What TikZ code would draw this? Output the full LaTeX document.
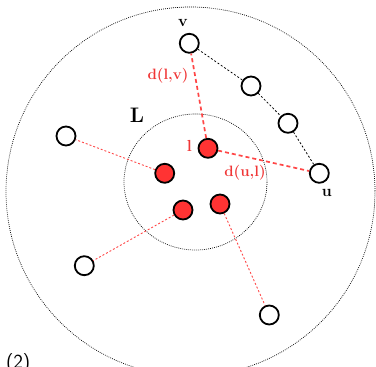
\documentclass[tikz,border=0pt]{standalone}
\usepackage{fontspec}
\setmainfont{Latin Modern Roman}
\setsansfont{Latin Modern Sans}
\definecolor{nodered}{RGB}{255,51,51}
\definecolor{linered}{RGB}{255,70,70}
\definecolor{textred}{RGB}{240,55,55}
\tikzset{
  wnode/.style={circle,draw=black,fill=white,line width=1.8pt,minimum size=19pt,inner sep=0pt},
  rnode/.style={circle,draw=black,fill=nodered,line width=1.8pt,minimum size=19pt,inner sep=0pt},
  ring/.style={draw=black,line width=0.7pt,dash pattern=on 0.8pt off 1.2pt},
  blkline/.style={draw=black,line width=0.8pt,dash pattern=on 2pt off 2pt},
  redthick/.style={draw=linered,line width=1.7pt,dash pattern=on 4pt off 3pt},
  redthin/.style={draw=linered,line width=0.9pt,dash pattern=on 2pt off 2pt},
  lbl/.style={font=\bfseries\fontsize{15}{17}\selectfont,inner sep=0pt},
  rlbl/.style={lbl,text=textred}
}
\begin{document}
\begin{tikzpicture}[x=1pt,y=-1pt]
\useasboundingbox (0,0) rectangle (376,367);
\draw[ring] (190.5,191.5) ellipse [x radius=184.5, y radius=184.5];
\draw[ring] (195.5,182) ellipse [x radius=71.5, y radius=68];
% nodes
\node[wnode] (v) at (189.3,43.3) {};
\node[wnode] (a) at (251,86) {};
\node[wnode] (b) at (288,123.3) {};
\node[wnode] (u) at (319.3,173.3) {};
\node[wnode] (p) at (66,136) {};
\node[wnode] (q) at (84.3,265.7) {};
\node[wnode] (s) at (269.3,315) {};
\node[rnode] (l) at (208,148.3) {};
\node[rnode] (r2) at (164.7,173.3) {};
\node[rnode] (r3) at (183,210) {};
\node[rnode] (r4) at (220,204) {};
% connectors
\draw[blkline] (v) -- (a);
\draw[blkline] (a) -- (b);
\draw[blkline] (b) -- (u);
\draw[redthick] (l) -- (v);
\draw[redthick] (l) -- (u);
\draw[redthin] (r2) -- (p);
\draw[redthin] (r3) -- (q);
\draw[redthin] (r4) -- (s);
% labels
\node[lbl,font=\bfseries\fontsize{16}{18}\selectfont] (tv) at (183,23) {v};
\node[lbl,font=\bfseries\fontsize{16}{18}\selectfont] (tu) at (327,193) {u};
\node[lbl,font=\bfseries\fontsize{21}{23}\selectfont] (tL) at (137,115.5) {L};
\node[rlbl,font=\bfseries\fontsize{16}{18}\selectfont] (tl) at (189.5,146) {l};
\node[rlbl] (tdlv) at (168,76) {d(l,v)};
\node[rlbl] (tdul) at (245,173) {d(u,l)};
\node[font=\sffamily\fontsize{20}{22}\selectfont,anchor=base west,inner sep=0pt] (t2) at (6,368) {(2)};
\end{tikzpicture}
\end{document}
